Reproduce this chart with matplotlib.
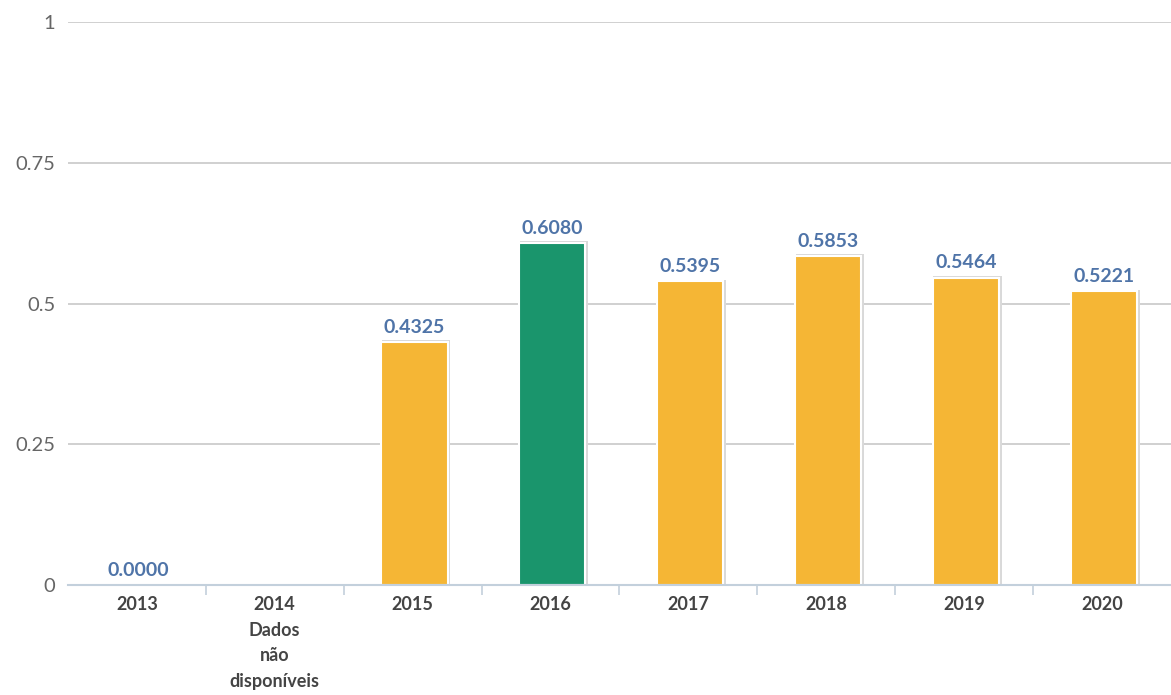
import matplotlib.pyplot as plt
import numpy as np

plt.rcParams['font.family'] = ['Lato', 'DejaVu Sans']

years = ['2013', '2014\nDados\nnão\ndisponíveis', '2015', '2016', '2017', '2018', '2019', '2020']
values = [0.0, None, 0.4325, 0.6080, 0.5395, 0.5853, 0.5464, 0.5221]
colors = ['#f5b635', '#f5b635', '#f5b635', '#1a956c', '#f5b635', '#f5b635', '#f5b635', '#f5b635']

fig = plt.figure(figsize=(11.71, 6.95), dpi=100)
ax = fig.add_axes([0.058, 0.158, 0.942, 0.81])

x = np.arange(len(years))
for i, v in enumerate(values):
    if v is None:
        continue
    # leve sombra atrás da barra
    ax.bar(x[i] + 0.025, v + 0.003, width=0.495, color='#d9d9d9', zorder=2)
    ax.bar(x[i] + 0.013, v, width=0.48, color=colors[i], edgecolor='white', linewidth=1.5, zorder=3)
    ax.text(x[i] + 0.013, v + 0.011, f'{v:.4f}', ha='center', va='bottom',
            fontsize=14, fontweight='bold', color='#4f74a8', zorder=4)

ax.set_xlim(-0.5, len(years) - 0.5)
ax.set_ylim(0, 1)
ax.set_yticks([0, 0.25, 0.5, 0.75, 1])
ax.set_yticklabels(['0', '0.25', '0.5', '0.75', '1'])
ax.yaxis.grid(True, color='#c8c8c8', linewidth=1.2)
ax.set_axisbelow(True)

ax.set_xticks(x)
ax.set_xticklabels(years, fontsize=13, fontweight='bold', color='#444444', linespacing=1.6)
ax.set_xticks(np.arange(0.5, len(years) - 0.5, 1), minor=True)
ax.tick_params(axis='x', which='major', length=0, pad=8)
ax.tick_params(axis='x', which='minor', length=7, color='#c3d0dc', width=1.2)
ax.tick_params(axis='y', length=0, labelsize=14.5, labelcolor='#666666', pad=9)

for s in ['top', 'right', 'left']:
    ax.spines[s].set_visible(False)
ax.spines['bottom'].set_color('#c3d0dc')
ax.spines['bottom'].set_linewidth(1.5)
ax.spines['bottom'].set_zorder(5)

fig.savefig('out.png', dpi=100)
